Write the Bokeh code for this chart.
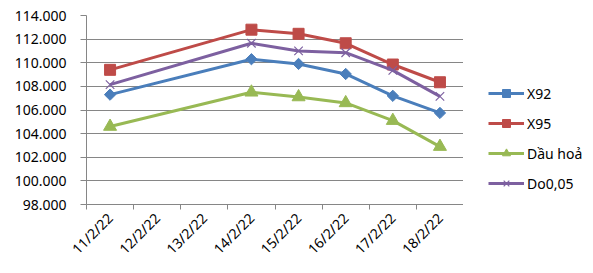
from math import pi
from bokeh.plotting import figure
from bokeh.layouts import row
from bokeh.models import (Range1d, LinearAxis, FixedTicker,
                          CustomJSTickFormatter, Legend, LegendItem)
from bokeh.embed import file_html
from bokeh.resources import INLINE

categories = ["11/2/22", "12/2/22", "13/2/22", "14/2/22", "15/2/22", "16/2/22", "17/2/22", "18/2/22"]
dates = ["11/2/22", "14/2/22", "15/2/22", "16/2/22", "17/2/22", "18/2/22"]
x92 = [107300, 110300, 109900, 109050, 107200, 105750]
x95 = [109400, 112800, 112450, 111650, 109850, 108350]
dau_hoa = [104600, 107500, 107100, 106600, 105100, 102900]
do005 = [108150, 111650, 111000, 110850, 109350, 107150]
y_ticks = [98000, 100000, 102000, 104000, 106000, 108000, 110000, 112000, 114000]

FONT = "Noto Sans"
FS = "14px"
GRID = "#868686"

# category centre positions on a numeric axis (one unit per category)
centers = [i + 0.5 for i in range(len(categories))]
xs = [categories.index(d) + 0.5 for d in dates]

p = figure(width=463, height=273, x_range=Range1d(0, len(categories)),
           y_range=Range1d(98000, 114000), output_backend="svg", toolbar_location=None,
           x_axis_location=None, y_axis_location=None)
p.min_border_left = 86
p.min_border_right = 0
p.min_border_top = 15
p.min_border_bottom = 69
p.outline_line_alpha = 0
p.background_fill_color = "white"
p.border_fill_color = "white"

# y axis
yax = LinearAxis(ticker=FixedTicker(ticks=y_ticks))
yax.formatter = CustomJSTickFormatter(code="""
return Math.round(tick).toString().replace(/\\B(?=(\\d{3})+(?!\\d))/g, ".");
""")
yax.axis_line_color = GRID
yax.major_tick_line_color = GRID
yax.major_tick_out = 6
yax.major_tick_in = 0
yax.minor_tick_line_color = None
yax.major_label_standoff = 14
yax.major_label_text_font = FONT
yax.major_label_text_font_size = FS
yax.major_label_text_color = "black"
p.add_layout(yax, "left")

# x tick axis at category boundaries (no labels)
xt = LinearAxis(ticker=FixedTicker(ticks=list(range(len(categories) + 1))))
xt.formatter = CustomJSTickFormatter(code='return "";')
xt.axis_line_color = GRID
xt.major_tick_line_color = GRID
xt.major_tick_out = 5
xt.major_tick_in = 0
xt.minor_tick_line_color = None
xt.major_label_standoff = 0
p.add_layout(xt, "below")

# x label axis at category centres
xl = LinearAxis(ticker=FixedTicker(ticks=centers))
xl.major_label_overrides = {c: cat for c, cat in zip(centers, categories)}
xl.axis_line_color = None
xl.major_tick_line_color = None
xl.minor_tick_line_color = None
xl.major_label_orientation = pi / 4
xl.major_label_text_font = FONT
xl.major_label_text_font_size = FS
xl.major_label_text_color = "black"
xl.major_label_standoff = 0
p.add_layout(xl, "below")

p.ygrid.ticker = FixedTicker(ticks=y_ticks)
p.ygrid.grid_line_color = GRID
p.xgrid.grid_line_color = None

series = [
    ("X92", x92, "#4A7EBB", "square", 8, pi / 4),
    ("X95", x95, "#BE4B48", "square", 11, 0),
    ("Dầu hoả", dau_hoa, "#98B954", "triangle", 13, 0),
    ("Do0,05", do005, "#7D60A0", "x", 12, 0),
]

# legend panel (its renderers hold the same data, outside its visible ranges)
q = figure(width=130, height=273, output_backend="svg", toolbar_location=None,
           x_axis_location=None, y_axis_location=None,
           x_range=Range1d(-20, -10), y_range=Range1d(0, 1))
q.min_border = 0
q.outline_line_alpha = 0
q.xgrid.visible = False
q.ygrid.visible = False

items = []
for name, vals, col, marker, size, ang in series:
    p.line(xs, vals, line_color=col, line_width=3)
    lq = q.line(xs, vals, line_color=col, line_width=3)
    if marker == "x":
        p.scatter(xs, vals, marker="x", size=size, line_color=col, line_width=1.2)
        sq = q.scatter(xs, vals, marker="x", size=size, line_color=col, line_width=1.2)
    else:
        p.scatter(xs, vals, marker=marker, size=size, angle=ang,
                  fill_color=col, line_color=col, line_width=1)
        sq = q.scatter(xs, vals, marker=marker, size=size, angle=ang,
                       fill_color=col, line_color=col, line_width=1)
    items.append(LegendItem(label=name, renderers=[lq, sq]))

legend = Legend(items=items, location=(25, 11))
legend.glyph_width = 36
legend.glyph_height = 20
legend.label_height = 20
legend.spacing = 10
legend.padding = 0
legend.margin = 0
legend.label_standoff = 3
legend.label_text_font = FONT
legend.label_text_font_size = FS
legend.label_text_color = "black"
legend.border_line_alpha = 0
legend.background_fill_alpha = 0
q.add_layout(legend, "center")

layout = row(p, q)
open("out.html", "w").write(file_html(layout, INLINE))
